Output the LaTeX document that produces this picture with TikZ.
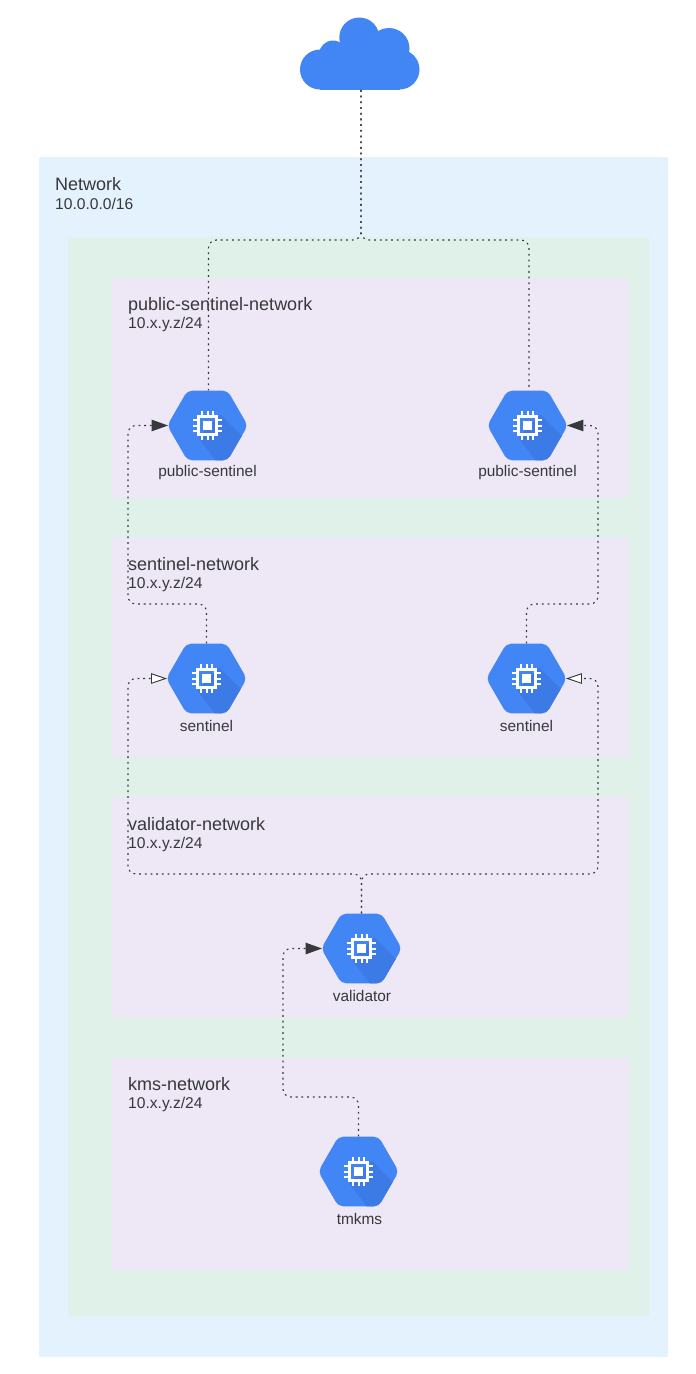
\documentclass[tikz,border=0pt]{standalone}
\usepackage{fontspec}
\setmainfont{Liberation Sans}
\usetikzlibrary{shapes.geometric,arrows.meta,calc}
\definecolor{gblue}{HTML}{4285F4}
\definecolor{gshadow}{HTML}{3C7AE6}
\definecolor{netblue}{HTML}{E3F2FD}
\definecolor{netgreen}{HTML}{DFF1E8}
\definecolor{netpurple}{HTML}{EDE7F6}
\definecolor{ink}{HTML}{37383B}
\tikzset{
  x=1pt,y=-1pt,
  region/.style={rounded corners=1pt},
  title/.style={anchor=west,inner sep=0pt,text=ink,font=\fontsize{18}{20}\selectfont},
  subtitle/.style={anchor=west,inner sep=0pt,text=ink,font=\fontsize{15.6}{17}\selectfont},
  hexlabel/.style={inner sep=0pt,text=ink,font=\fontsize{15.4}{18}\selectfont},
  chiphex/.style={regular polygon,regular polygon sides=6,
    minimum size=80.5pt,inner sep=0pt,fill=gblue,rounded corners=5pt,
    path picture={
      \begin{scope}[shift={(path picture bounding box.center)},rounded corners=0pt]
        \fill[gshadow] (13,-11) -- (60,36) -- (24,56) -- (-9,12) -- cycle;
        \draw[white,line width=2.4pt] (-9,-9) rectangle (9,9);
        \fill[white] (-4.2,-4.2) rectangle (4.2,4.2);
        \foreach \p in {-5.6,0,5.6}{
          \fill[white] (\p-1,-14.8) rectangle (\p+1,-9);
          \fill[white] (\p-1,9) rectangle (\p+1,14.8);
          \fill[white] (-14.8,\p-1) rectangle (-9,\p+1);
          \fill[white] (9,\p-1) rectangle (14.8,\p+1);
        }
      \end{scope}
    }},
  conn/.style={draw=ink,line width=1.1pt,dash pattern=on 1.8pt off 3.9pt,rounded corners=8pt},
  solidtip/.style={-{Triangle[length=16.5pt,width=11.5pt,fill=ink,sep=-1pt]}},
  opentip/.style={-{Triangle[open,length=16pt,width=10.5pt,fill=white,line width=0.9pt,sep=-1pt]}},
}
\begin{document}
\begin{tikzpicture}
\useasboundingbox (0,0) rectangle (696,1374);
\fill[white] (0,0) rectangle (696,1374);
% regions
\fill[netblue,region] (39,157) rectangle (668,1357);
\fill[netgreen,region] (68,237) rectangle (649,1316);
\fill[netpurple,region] (112,278) rectangle (629,498);
\fill[netpurple,region] (112,537) rectangle (629,757);
\fill[netpurple,region] (112,797) rectangle (629,1017);
\fill[netpurple,region] (112,1058) rectangle (629,1270);
% region labels
\node[title] (tnet) at (55,184) {Network};
\node[subtitle] (snet) at (55,204) {10.0.0.0/16};
\node[title] (t1) at (128,305.5) {public-sentinel-network};
\node[subtitle] (s1l) at (128,324) {10.x.y.z/24};
\node[title] (t2) at (128,564) {sentinel-network};
\node[subtitle] (s2l) at (128,584) {10.x.y.z/24};
\node[title] (t3) at (128,824) {validator-network};
\node[subtitle] (s3l) at (128,844) {10.x.y.z/24};
\node[title] (t4) at (128,1084) {kms-network};
\node[subtitle] (s4l) at (128,1104) {10.x.y.z/24};
% cloud
\node[minimum width=120pt,minimum height=72.5pt,inner sep=0pt] (cloud) at (361,53.5) {};
\begin{scope}[gblue]
  \fill (320,69.5) circle (20);
  \fill (399.5,69.5) circle (20);
  \fill (333,54.5) circle (14);
  \fill (359.3,37.5) circle (20);
  \fill (389,48.5) circle (20.5);
  \fill (320,49.5) rectangle (400,89.5);
\end{scope}
% hexagons
\node[chiphex] (ps1) at (207.5,425.5) {};
\node[chiphex] (ps2) at (527.5,425.5) {};
\node[chiphex] (se1) at (206.5,678.5) {};
\node[chiphex] (se2) at (526.5,678.5) {};
\node[chiphex] (val) at (361.5,948.5) {};
\node[chiphex] (tmk) at (358.5,1171.5) {};
\node[hexlabel] (lps1) at (207.5,473) {public-sentinel};
\node[hexlabel] (lps2) at (527.5,473) {public-sentinel};
\node[hexlabel] (lse1) at (206.5,726) {sentinel};
\node[hexlabel] (lse2) at (526.5,726) {sentinel};
\node[hexlabel] (lval) at (362,996) {validator};
\node[hexlabel] (ltmk) at (359.5,1219) {tmkms};
% connectors
\draw[conn] (cloud.south) -- (361,240) -- (208.5,240) -- (ps1.north -| 208.5,0);
\draw[conn] (cloud.south) -- (361,240) -- (529,240) -- (ps2.north -| 529,0);
\draw[conn,solidtip] (se1.north) -- (206.5,604) -- (128,604) -- (128,425.5) -- (ps1.west);
\draw[conn,solidtip] (se2.north) -- (526.5,604) -- (598,604) -- (598,425.5) -- (ps2.east);
\draw[conn,opentip] (val.north) -- (361.5,874) -- (128,874) -- (128,678.5) -- (se1.west);
\draw[conn,opentip] (val.north) -- (361.5,874) -- (598,874) -- (598,678.5) -- (se2.east);
\draw[conn,solidtip] (tmk.north) -- (358.5,1097) -- (283,1097) -- (283,948.5) -- (val.west);
\end{tikzpicture}
\end{document}
